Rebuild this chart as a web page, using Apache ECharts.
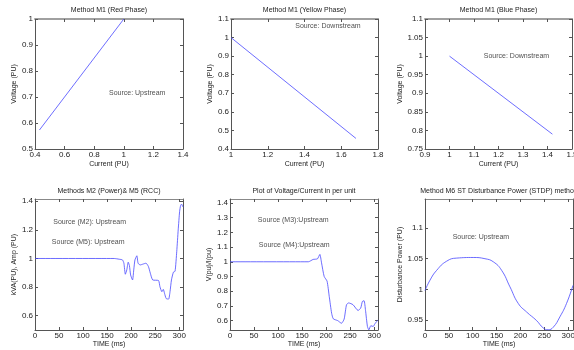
<!DOCTYPE html>
<html>
<head>
<meta charset="utf-8">
<script src="https://cdn.jsdelivr.net/npm/echarts@6/dist/echarts.min.js"></script>
<style>
  html, body { margin: 0; padding: 0; background: #fff; }
  #chart { width: 574px; height: 350px; }
</style>
</head>
<body>
<div id="chart"></div>
<script>
// M1 phases: current vs voltage (PU)
const redCurrent = [0.43, 1.0];
const redVoltage = [0.573, 1.0];
const yellowCurrent = [1.0, 1.68];
const yellowVoltage = [1.0, 0.457];
const blueCurrent = [1.0, 1.42];
const blueVoltage = [1.0, 0.79];

// M2 / M5 time trace
const m2Time = [0, 165, 175, 182, 185, 188, 191, 194, 196.5, 199, 203, 205.5, 208, 212, 214.5, 219, 224, 231, 236, 240, 245, 257, 260, 264, 267, 269.5, 273, 278, 281, 284, 288, 291.5, 295, 298, 301, 303, 305, 308];
const m2Value = [1, 1, 0.995, 0.99, 0.967, 0.89, 0.92, 0.974, 0.95, 0.885, 0.85, 0.92, 0.99, 1.019, 0.967, 0.955, 0.96, 0.967, 0.944, 0.897, 0.85, 0.846, 0.803, 0.768, 0.784, 0.757, 0.72, 0.716, 0.768, 0.85, 0.904, 0.911, 1.05, 1.2, 1.33, 1.37, 1.38, 1.36];

// M3 / M4 time trace
const m3Time = [0, 163, 173, 182, 187, 190.5, 196, 202, 206.5, 211.5, 215, 224, 232, 237.5, 242.5, 247, 256, 266.5, 272, 275.5, 279, 282, 286, 289, 293, 298, 301.5, 308];
const m3Value = [1, 1, 1.016, 1.02, 1.05, 0.993, 0.9, 0.868, 0.765, 0.65, 0.612, 0.6, 0.582, 0.61, 0.708, 0.72, 0.708, 0.669, 0.685, 0.73, 0.735, 0.67, 0.56, 0.537, 0.565, 0.56, 0.578, 0.605];

// M6 disturbance power
const m6Time = [0, 10.5, 24.4, 45.4, 66.3, 101, 125.6, 143, 160.5, 178, 195.3, 212.8, 233.7, 247.6, 258, 268.5, 282.5, 296.5, 310];
const m6Value = [0.998, 1.015, 1.031, 1.046, 1.051, 1.052, 1.05, 1.045, 1.031, 1.004, 0.977, 0.963, 0.949, 0.937, 0.934, 0.938, 0.955, 0.977, 1.0065];

// tick labels
const ticksX1 = [0.4, 0.6, 0.8, 1, 1.2, 1.4];
const ticksY1 = [0.5, 0.6, 0.7, 0.8, 0.9, 1];
const ticksX2 = [1, 1.2, 1.4, 1.6, 1.8];
const ticksY2 = [0.4, 0.5, 0.6, 0.7, 0.8, 0.9, 1, 1.1];
const ticksX3 = [0.9, 1, 1.1, 1.2, 1.3, 1.4, 1.5];
const ticksY3 = [0.75, 0.8, 0.85, 0.9, 0.95, 1, 1.05, 1.1];
const ticksTime = [0, 50, 100, 150, 200, 250, 300];
const ticksY4 = [0.6, 0.8, 1, 1.2, 1.4];
const ticksY5 = [0.6, 0.7, 0.8, 0.9, 1, 1.1, 1.2, 1.3, 1.4];
const ticksY6 = [0.95, 1, 1.05, 1.1];

const zip = (a, b) => a.map((v, i) => [v, b[i]]);

const panels = [
  { title: 'Method M1 (Red Phase)', box: [35, 19, 148, 130], x: [0.4, 1.4], y: [0.5, 1], tx: ticksX1, ty: ticksY1,
    xName: 'Current (PU)', yName: 'Voltage (PU)', data: zip(redCurrent, redVoltage), smooth: false,
    notes: [{ value: [0.9, 0.715], name: 'Source: Upstream' }], topRow: true },
  { title: 'Method M1 (Yellow Phase)', box: [231, 19, 147, 130], x: [1, 1.8], y: [0.4, 1.1], tx: ticksX2, ty: ticksY2,
    xName: 'Current (PU)', yName: 'Voltage (PU)', data: zip(yellowCurrent, yellowVoltage), smooth: false,
    notes: [{ value: [1.35, 1.062], name: 'Source: Downstream' }], topRow: true },
  { title: 'Method M1 (Blue Phase)', box: [425, 19, 147, 130], x: [0.9, 1.5], y: [0.75, 1.1], tx: ticksX3, ty: ticksY3,
    xName: 'Current (PU)', yName: 'Voltage (PU)', data: zip(blueCurrent, blueVoltage), smooth: false,
    notes: [{ value: [1.14, 1.0], name: 'Source: Downstream' }], topRow: true },
  { title: 'Methods M2 (Power)& M5 (RCC)', box: [35, 199, 148, 131], x: [0, 308], y: [0.5, 1.416], tx: ticksTime, ty: ticksY4,
    xName: 'TIME (ms)', yName: 'kVA(PU), Amp (PU)', data: zip(m2Time, m2Value), smooth: 0.2,
    notes: [{ value: [38, 1.255], name: 'Source (M2): Upstream' }, { value: [35, 1.115], name: 'Source (M5): Upstream' }] },
  { title: 'Plot of Voltage/Current in per unit', box: [230, 199, 148, 131], x: [0, 308], y: [0.536, 1.427], tx: ticksTime, ty: ticksY5,
    xName: 'TIME (ms)', yName: 'V(pu)/I(pu)', data: zip(m3Time, m3Value), smooth: 0.2,
    notes: [{ value: [58, 1.285], name: 'Source (M3):Upstream' }, { value: [60, 1.116], name: 'Source (M4):Upstream' }] },
  { title: 'Method M6 ST Disturbance Power (STDP) method', box: [425, 199, 148, 131], x: [0, 310], y: [0.9336, 1.1475], tx: ticksTime, ty: ticksY6,
    xName: 'TIME (ms)', yName: 'Disturbance Power (PU)', data: zip(m6Time, m6Value), smooth: true,
    notes: [{ value: [58, 1.085], name: 'Source: Upstream' }] }
];

const font = 'Liberation Sans, Arial, sans-serif';
const axisColor = '#555';
const textColor = '#222';

const grid = [], xAxis = [], yAxis = [], series = [], title = [];

panels.forEach((p, i) => {
  const [l, t, w, h] = p.box;
  grid.push({ left: l, top: t, width: w, height: h, show: false, outerBoundsMode: 'none' });
  title.push({
    text: p.title, left: l + w / 2, top: p.topRow ? 7 : 188, textAlign: 'center', padding: 0,
    textStyle: { fontSize: 7, fontWeight: 'normal', color: textColor, fontFamily: font }
  });
  const tickCommon = { inside: true, length: 3, lineStyle: { color: axisColor, width: 1 } };
  // bottom x
  xAxis.push({
    type: 'value', gridIndex: i, min: p.x[0], max: p.x[1], position: 'bottom',
    name: p.xName, nameLocation: 'middle', nameGap: p.topRow ? 12 : 11,
    nameTextStyle: { fontSize: 7, color: textColor, fontFamily: font },
    axisLine: { onZero: false, lineStyle: { color: axisColor, width: 1 } },
    axisTick: Object.assign({ customValues: p.tx }, tickCommon),
    axisLabel: { customValues: p.tx, fontSize: 8, color: textColor, fontFamily: font, margin: 2 },
    splitLine: { show: false }
  });
  // top x (box)
  xAxis.push({
    type: 'value', gridIndex: i, min: p.x[0], max: p.x[1], position: 'top',
    axisLine: { onZero: false, lineStyle: { color: p.topRow ? '#a0a0a0' : '#888', width: p.topRow ? 2 : 1 } },
    axisTick: Object.assign({ customValues: p.tx }, tickCommon),
    axisLabel: { show: false }, splitLine: { show: false }
  });
  // left y
  yAxis.push({
    type: 'value', gridIndex: i, min: p.y[0], max: p.y[1], position: 'left',
    name: p.yName, nameLocation: 'middle', nameGap: 14, nameRotate: 90,
    nameTextStyle: { fontSize: 7, color: textColor, fontFamily: font },
    axisLine: { onZero: false, lineStyle: { color: axisColor, width: 1 } },
    axisTick: Object.assign({ customValues: p.ty }, tickCommon),
    axisLabel: { customValues: p.ty, fontSize: 8, color: textColor, fontFamily: font, margin: 2 },
    splitLine: { show: false }
  });
  // right y (box)
  yAxis.push({
    type: 'value', gridIndex: i, min: p.y[0], max: p.y[1], position: 'right',
    axisLine: { onZero: false, lineStyle: { color: axisColor, width: 1 } },
    axisTick: Object.assign({ customValues: p.ty }, tickCommon),
    axisLabel: { show: false }, splitLine: { show: false }
  });
  series.push({
    type: 'line', xAxisIndex: 2 * i, yAxisIndex: 2 * i, data: p.data,
    showSymbol: false, symbol: 'none', smooth: p.smooth, clip: true,
    lineStyle: { color: '#4848ff', width: 0.8 }
  });
  series.push({
    type: 'scatter', xAxisIndex: 2 * i, yAxisIndex: 2 * i, symbolSize: 0, data: p.notes,
    label: { show: true, position: 'right', distance: 0, formatter: '{b}', fontSize: 7, color: textColor, fontFamily: font },
    silent: true
  });
});

const chart = echarts.init(document.getElementById('chart'), null, { renderer: 'canvas' });
chart.setOption({
  animation: false,
  backgroundColor: '#fff',
  title, grid, xAxis, yAxis, series
});
</script>
</body>
</html>
